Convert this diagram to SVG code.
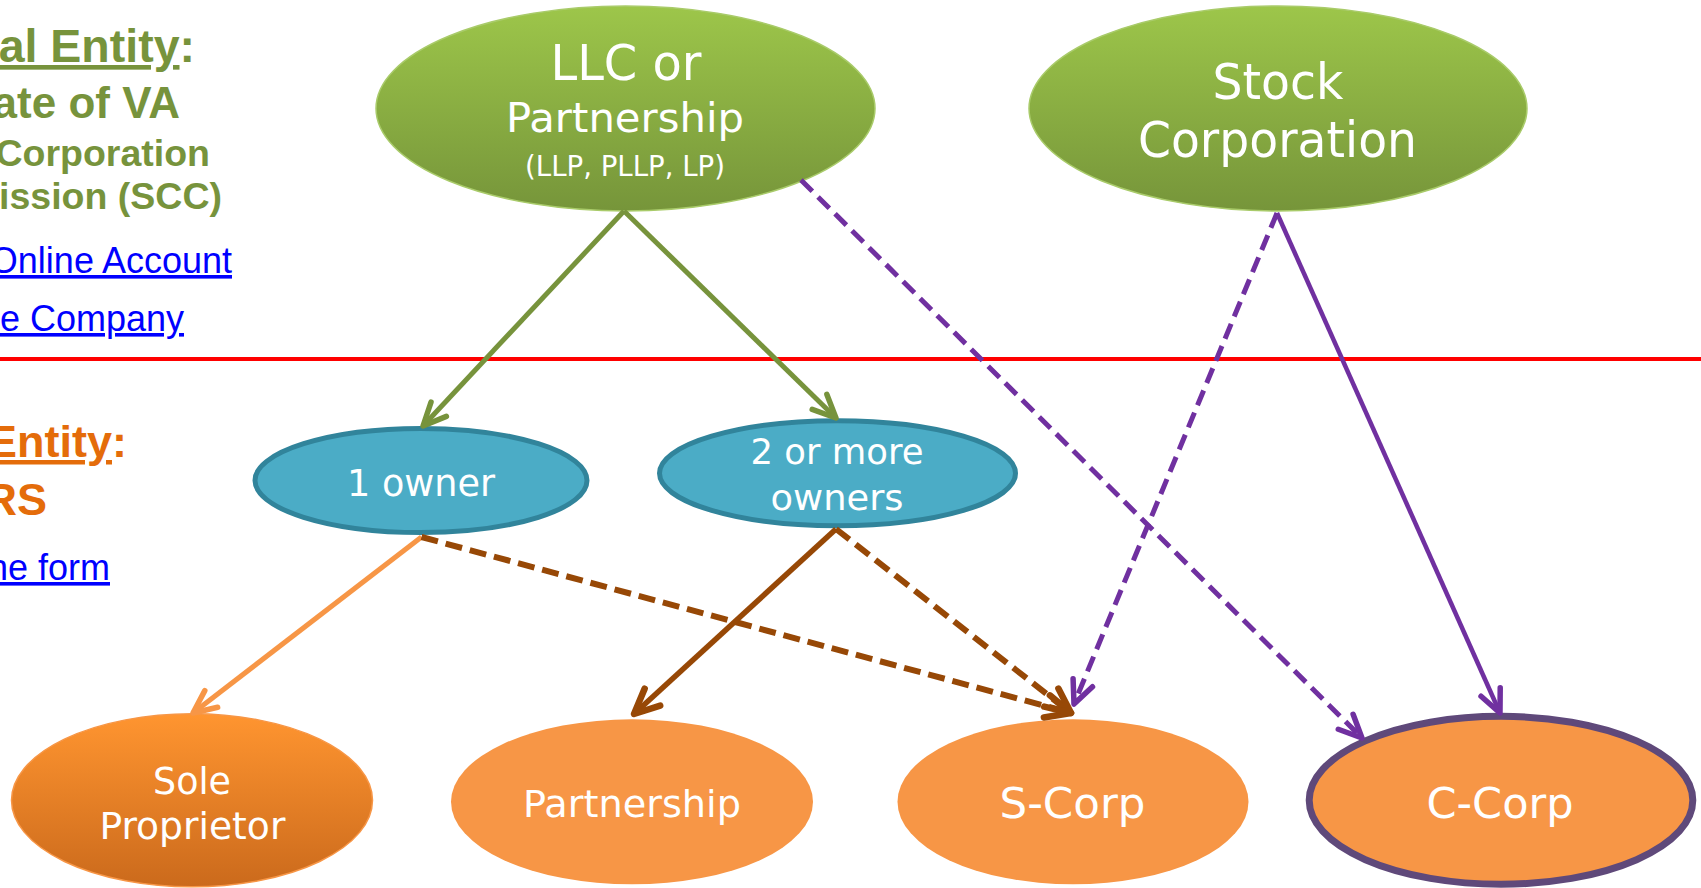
<svg xmlns="http://www.w3.org/2000/svg" width="1701" height="888" viewBox="0 0 1701 888">
<style>
.lbl{font-family:"DejaVu Sans","Verdana",sans-serif;fill:#FFFFFF;text-anchor:middle}
.side{font-family:"Liberation Sans",Arial,sans-serif;text-anchor:end}
.g{fill:#77933C;font-weight:bold}
.o{fill:#E46C0A;font-weight:bold}
.lnk{fill:#0000FF;text-decoration:underline}
.c{fill:none}
.green{stroke:#77933C;stroke-width:5}
.purple{stroke:#7030A0;stroke-width:4.5}
.purple.dash{stroke-width:5;stroke-dasharray:16 8}
.lo{stroke:#F79646;stroke-width:5}
.brown{stroke:#974806;stroke-width:5.5}
.brown.dash{stroke-width:6;stroke-dasharray:17 8}
</style>
<defs>
<linearGradient id="gGreen" x1="0" y1="0" x2="0" y2="1">
<stop offset="0" stop-color="#9DC64A"/>
<stop offset="1" stop-color="#76953A"/>
</linearGradient>
<linearGradient id="gSole" x1="0" y1="0" x2="0" y2="1">
<stop offset="0" stop-color="#FF9530"/>
<stop offset="1" stop-color="#CB6A1C"/>
</linearGradient>
<marker id="mGreen" markerUnits="userSpaceOnUse" orient="auto" refX="0" refY="0" markerWidth="40" markerHeight="40" viewBox="-30 -20 40 40" overflow="visible">
<path d="M-23,-10.5 L0,0 L-23,10.5" fill="none" stroke="#77933C" stroke-width="5.5" stroke-linecap="round" stroke-linejoin="round"/>
</marker>
<marker id="mPurple" markerUnits="userSpaceOnUse" orient="auto" refX="0" refY="0" markerWidth="40" markerHeight="40" viewBox="-30 -20 40 40" overflow="visible">
<path d="M-23,-10.5 L0,0 L-23,10.5" fill="none" stroke="#7030A0" stroke-width="5.5" stroke-linecap="round" stroke-linejoin="round"/>
</marker>
<marker id="mLO" markerUnits="userSpaceOnUse" orient="auto" refX="0" refY="0" markerWidth="40" markerHeight="40" viewBox="-30 -20 40 40" overflow="visible">
<path d="M-23,-10.5 L0,0 L-23,10.5" fill="none" stroke="#F79646" stroke-width="5.5" stroke-linecap="round" stroke-linejoin="round"/>
</marker>
<marker id="mBrown" markerUnits="userSpaceOnUse" orient="auto" refX="0" refY="0" markerWidth="40" markerHeight="40" viewBox="-30 -20 40 40" overflow="visible">
<path d="M-25,-11.5 L0,0 L-25,11.5" fill="none" stroke="#974806" stroke-width="6.5" stroke-linecap="round" stroke-linejoin="round"/>
</marker>
</defs>
<rect x="0" y="0" width="1701" height="888" fill="#FFFFFF"/>

<g id="legal-panel" class="side">
<text class="g" x="195" y="62" font-size="46.5"><tspan text-decoration="underline">al Entity</tspan>:</text>
<text class="g" x="180" y="118" font-size="44">ate of VA</text>
<text class="g" x="210" y="166" font-size="37.5">Corporation</text>
<text class="g" x="222" y="209" font-size="37.5">ission (SCC)</text>
<text class="lnk" x="232" y="273" font-size="36">Online Account</text>
<text class="lnk" x="184" y="331" font-size="36">e Company</text>
</g>

<line id="divider" x1="0" y1="359" x2="1701" y2="359" stroke="#FF0000" stroke-width="4"/>

<g id="tax-panel" class="side">
<text class="o" x="127" y="457" font-size="45"><tspan text-decoration="underline">Entity</tspan>:</text>
<text class="o" x="47" y="515" font-size="45">RS</text>
<text class="lnk" x="110" y="580" font-size="36">ne form</text>
</g>

<g id="llc">
<ellipse cx="625.5" cy="108.5" rx="249.5" ry="102.5" fill="url(#gGreen)" stroke="#A9CB6A" stroke-width="1.5"/>
<text class="lbl" x="626" y="80" font-size="50" textLength="151" lengthAdjust="spacingAndGlyphs">LLC or</text>
<text class="lbl" x="625" y="132" font-size="41" textLength="238" lengthAdjust="spacingAndGlyphs">Partnership</text>
<text class="lbl" x="625" y="176" font-size="28" textLength="200" lengthAdjust="spacingAndGlyphs">(LLP, PLLP, LP)</text>
</g>

<g id="stock">
<ellipse cx="1278" cy="108.5" rx="249" ry="102.5" fill="url(#gGreen)" stroke="#A9CB6A" stroke-width="1.5"/>
<text class="lbl" x="1278" y="99" font-size="49" textLength="131" lengthAdjust="spacingAndGlyphs">Stock</text>
<text class="lbl" x="1277.5" y="157" font-size="49" textLength="279" lengthAdjust="spacingAndGlyphs">Corporation</text>
</g>

<g id="one-owner">
<ellipse cx="421" cy="480.5" rx="166" ry="52" fill="#4BACC6" stroke="#31849B" stroke-width="5"/>
<text class="lbl" x="421" y="496" font-size="37" textLength="148" lengthAdjust="spacingAndGlyphs">1 owner</text>
</g>

<g id="two-owners">
<ellipse cx="837.5" cy="473.3" rx="178" ry="52.5" fill="#4BACC6" stroke="#31849B" stroke-width="5"/>
<text class="lbl" x="837" y="464" font-size="36" textLength="173" lengthAdjust="spacingAndGlyphs">2 or more</text>
<text class="lbl" x="837" y="510" font-size="36" textLength="133" lengthAdjust="spacingAndGlyphs">owners</text>
</g>

<g id="sole">
<ellipse cx="192" cy="800.3" rx="180.5" ry="86.5" fill="url(#gSole)" stroke="#F79646" stroke-width="1.5"/>
<text class="lbl" x="192" y="794" font-size="38" textLength="78" lengthAdjust="spacingAndGlyphs">Sole</text>
<text class="lbl" x="192.4" y="839" font-size="38" textLength="186" lengthAdjust="spacingAndGlyphs">Proprietor</text>
</g>

<g id="partnership">
<ellipse cx="632" cy="801.8" rx="181" ry="82.5" fill="#F79646"/>
<text class="lbl" x="632" y="817" font-size="38" textLength="218" lengthAdjust="spacingAndGlyphs">Partnership</text>
</g>

<g id="scorp">
<ellipse cx="1073" cy="801.8" rx="175.5" ry="82.5" fill="#F79646"/>
<text class="lbl" x="1072.5" y="818" font-size="43" textLength="146" lengthAdjust="spacingAndGlyphs">S-Corp</text>
</g>

<g id="ccorp">
<ellipse cx="1501" cy="800.3" rx="191.8" ry="84" fill="#F79646" stroke="#5F497A" stroke-width="7"/>
<text class="lbl" x="1500" y="818" font-size="43" textLength="147" lengthAdjust="spacingAndGlyphs">C-Corp</text>
</g>

<g id="connectors" class="c">
<path class="green" d="M624,211 L423,426" marker-end="url(#mGreen)"/>
<path class="green" d="M624,211 L836,418" marker-end="url(#mGreen)"/>
<path class="purple dash" d="M801,180 L1362,738" marker-end="url(#mPurple)"/>
<path class="purple dash" d="M1277,213 L1074,704" marker-end="url(#mPurple)"/>
<path class="purple" d="M1277,213 L1500,713" marker-end="url(#mPurple)"/>
<path class="lo" d="M421.5,537 L193,713" marker-end="url(#mLO)"/>
<path class="brown dash" d="M421.5,537 L1071,713" marker-end="url(#mBrown)"/>
<path class="brown" d="M836,529 L634,714" marker-end="url(#mBrown)"/>
<path class="brown dash" d="M836,529 L1071,713" marker-end="url(#mBrown)"/>
</g>
</svg>
